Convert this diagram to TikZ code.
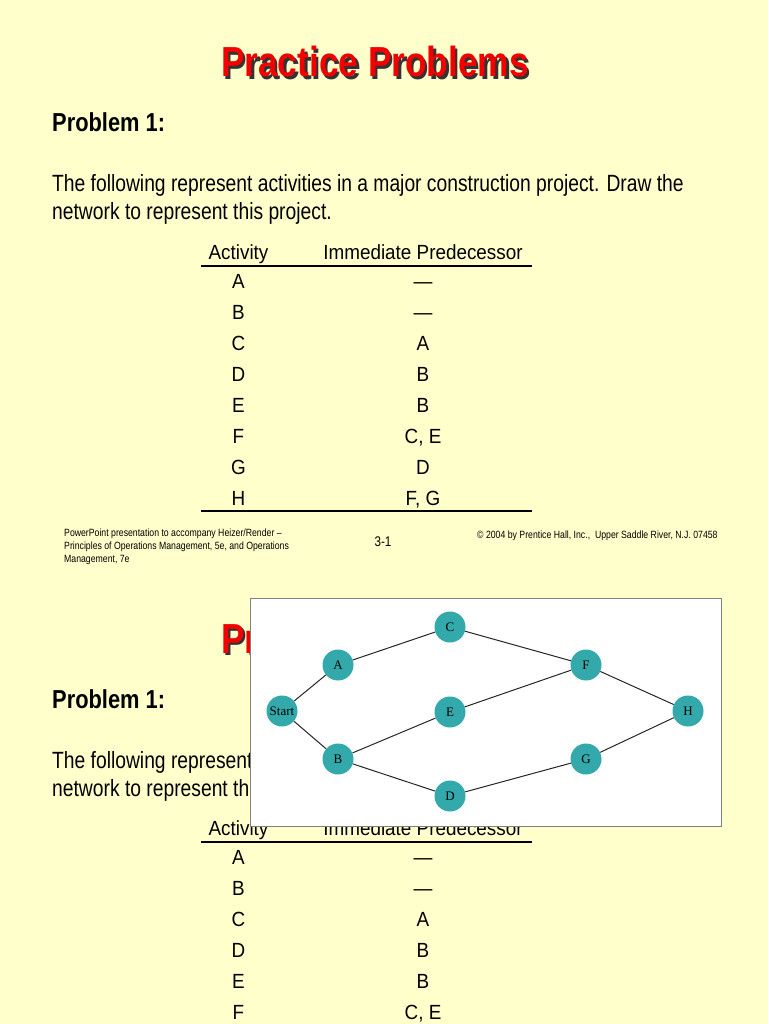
\documentclass[tikz,border=0pt]{standalone}
\usepackage{fontspec}
\setmainfont{Liberation Sans}
\newfontfamily\headfont[FakeStretch=0.84]{Liberation Sans}
\newfontfamily\slidefont[FakeStretch=0.82]{Liberation Sans}
\newfontfamily\tablefont[FakeStretch=0.92]{Liberation Sans}
\newfontfamily\notefont[FakeStretch=0.83]{Liberation Sans}
\newfontfamily\netfont{Liberation Serif}
\usetikzlibrary{positioning}
\definecolor{slidebg}{HTML}{FFFFCC}
\definecolor{titlered}{HTML}{F20000}
\definecolor{netteal}{HTML}{33A9AC}

\begin{document}
\begin{tikzpicture}[
    x=1pt, y=-1pt,
    heading/.style ={font=\headfont\bfseries\fontsize{42}{48}\selectfont, inner sep=0, anchor=base},
    probl/.style   ={font=\headfont\bfseries\fontsize{26}{30}\selectfont, inner sep=0, anchor=base west},
    body/.style    ={font=\slidefont\fontsize{23.5}{28}\selectfont, inner sep=0, anchor=base west},
    tab/.style     ={font=\tablefont\fontsize{20.5}{24}\selectfont, inner sep=0, anchor=base},
    note/.style    ={font=\notefont\fontsize{10.5}{13}\selectfont, inner sep=0, align=left},
    rule/.style    ={draw=black, line width=1.6pt},
    task/.style    ={circle, fill=netteal, minimum size=31pt, inner sep=0,
                     font=\netfont\fontsize{13}{15}\selectfont},
    link/.style    ={draw=black!85, line width=1pt}
  ]

  %% ---- page --------------------------------------------------------
  \path[use as bounding box, fill=slidebg] (0,0) rectangle (768,1024);
  \clip (0,0) rectangle (768,1024);

  %% ---- the slide, twice (second one is cut off) --------------------
  \foreach \sy in {0,576} {
  \begin{scope}[shift={(0,\sy)}]
    \node[heading, text=black!80] (shadow\sy) at (377.5,79.5) {Practice Problems};
    \node[heading, text=titlered] (title\sy)  at (375,77)     {Practice Problems};

    \node[probl] (prob\sy) at (52,132) {Problem 1:};
    \node[body] (line1\sy) at (52,192)
      {The following represent activities in a major construction project. Draw the};
    \node[body] (line2\sy) at (52,220) {network to represent this project.};

    % table
    \node[tab] (act\sy)  at (238.5,259) {Activity};
    \node[tab] (pred\sy) at (423,259)   {Immediate Predecessor};
    \draw[rule] (201,266) -- (532,266);
    \foreach \r/\p [count=\i from 0] in {A/\textemdash, B/\textemdash, C/A, D/B,
                                         E/B, F/{C, E}, G/D, H/{F, G}} {
      \node[tab] (row\r\sy) at (238.5,{288+31*\i}) {\r};
      \node[tab] (pre\r\sy) at (423,{288+31*\i})   {\p};
    }
    \draw[rule] (201,511) -- (532,511);

    % footer
    \node[note, anchor=north west] (foot\sy) at (64,529)
      {PowerPoint presentation to accompany Heizer/Render \textendash\\
       Principles of Operations Management, 5e, and Operations\\
       Management, 7e};
    \node[font=\notefont\fontsize{14}{16}\selectfont, inner sep=0, anchor=base] (page\sy) at (383,546) {3-1};
    \node[note, anchor=base west] (copy\sy) at (477,538)
      {\textcopyright\ 2004 by Prentice Hall, Inc.,\ \ Upper Saddle River, N.J. 07458};
  \end{scope}
  }

  %% ---- network picture pasted on top -------------------------------
  \filldraw[fill=white, draw=black!50, line width=1pt] (250,598) rectangle (721,826);

  \node[task] (start) at (282,711) {Start};
  \node[task] (A) at (338,665) {A};
  \node[task] (B) at (338,759) {B};
  \node[task] (C) at (450,627) {C};
  \node[task] (E) at (450,712) {E};
  \node[task] (D) at (450,796) {D};
  \node[task] (F) at (586,665) {F};
  \node[task] (G) at (586,759) {G};
  \node[task] (H) at (688,711) {H};

  \foreach \a/\b in {start/A, start/B, A/C, C/F, B/E, E/F, B/D, D/G, F/H, G/H}
    \draw[link] (\a) -- (\b);

\end{tikzpicture}
\end{document}
